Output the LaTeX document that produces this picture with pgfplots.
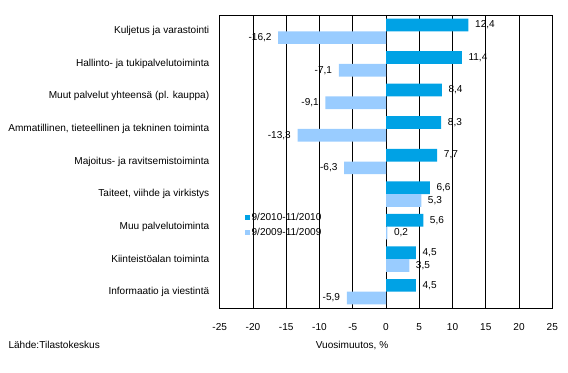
\documentclass[border=0pt]{standalone}
\usepackage{pgfplots}
\pgfplotsset{compat=1.18}
\usepackage{fontspec}
\setmainfont{Liberation Sans}
\definecolor{darkb}{HTML}{00A2E5}
\definecolor{lightb}{HTML}{99CCFF}
\newcommand{\tf}{\fontsize{10.1}{12}\selectfont}
\begin{document}
\begin{tikzpicture}
\path[use as bounding box] (0,0) rectangle (568bp,373bp);
\begin{axis}[
  at={(219.7bp,65bp)}, anchor=south west,
  scale only axis, width=332.6bp, height=293bp,
  xmin=-25, xmax=25, ymin=-0.5, ymax=8.5,
  xtick={-25,-20,...,25},
  ytick={0,...,8},
  yticklabels={Informaatio ja viestintä, Kiinteistöalan toiminta, Muu palvelutoiminta, {Taiteet, viihde ja virkistys}, Majoitus- ja ravitsemistoiminta, {Ammatillinen, tieteellinen ja tekninen toiminta}, Muut palvelut yhteensä (pl. kauppa), Hallinto- ja tukipalvelutoiminta, Kuljetus ja varastointi},
  major tick length=0pt,
  xmajorgrids, grid style={black, line width=0.8bp},
  axis line style={black, line width=0.8bp},
  tick label style={font=\tf},
  /pgf/number format/assume math mode=true,
  yticklabel style={xshift=-7bp},
  xticklabel style={yshift=-12bp},
  xlabel={Vuosimuutos, \%},
  xlabel style={at={(axis description cs:0.398,0)}, anchor=center, yshift=-37.7bp, font=\tf},
  xbar, bar width=12.7bp,
  point meta=x,
  nodes near coords={\pgfmathprintnumber[fixed,fixed zerofill,precision=1,use comma]{\pgfplotspointmeta}},
  nodes near coords align=horizontal,
  every node near coord/.append style={font=\tf, inner xsep=6.5bp, text=black},
  legend style={draw=none, fill=none, at={(axis description cs:0.075,0.33)}, anchor=north west, font=\tf, row sep=1.5bp, inner sep=0pt, cells={anchor=west}},
  legend image code/.code={\fill[#1] (0bp,-2.4bp) rectangle (4.8bp,2.4bp);},
]
\addplot[fill=darkb, draw=none, bar shift=6.35bp] coordinates {(4.5,0) (4.5,1) (5.6,2) (6.6,3) (7.7,4) (8.3,5) (8.4,6) (11.4,7) (12.4,8)};
\addplot[fill=lightb, draw=none, bar shift=-6.35bp] coordinates {(-5.9,0) (3.5,1) (0.2,2) (5.3,3) (-6.3,4) (-13.3,5) (-9.1,6) (-7.1,7) (-16.2,8)};
\legend{9/2010-11/2010, 9/2009-11/2009}
\end{axis}
\node[anchor=west, font=\tf] at (5bp,28bp) {Lähde:Tilastokeskus};
\end{tikzpicture}
\end{document}
